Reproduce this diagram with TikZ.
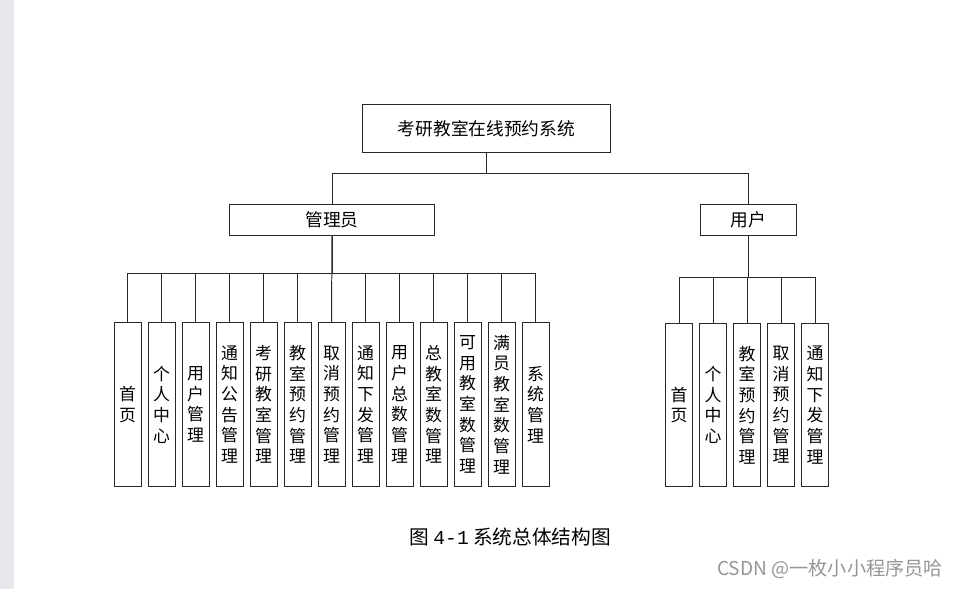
\documentclass[tikz,border=0pt]{standalone}
\usepackage{fontspec}
\usepackage{xcolor}
\usepackage{tikz}
\usetikzlibrary{calc,positioning}
\newfontfamily\cjk{Noto Sans CJK SC}
\newfontfamily\capfont{Liberation Mono}
\definecolor{edge}{RGB}{40,40,40}
\definecolor{strip}{RGB}{230,232,236}
\definecolor{mark}{RGB}{150,150,150}

\begin{document}
\begin{tikzpicture}[x=0.025cm,y=-0.025cm,
    top/.style={draw=edge,line width=0.7pt,inner sep=0pt,outer sep=0pt,font=\cjk\fontsize{12.6}{14}\selectfont,minimum width=6.175cm,minimum height=1.175cm},
    role/.style={draw=edge,line width=0.7pt,inner sep=0pt,outer sep=0pt,font=\cjk\fontsize{12.6}{14}\selectfont,minimum height=0.775cm},
    leaf/.style={draw=edge,line width=0.7pt,inner sep=0pt,outer sep=0pt,align=center,font=\cjk\fontsize{12}{14.7}\selectfont,minimum width=0.675cm,minimum height=4.075cm},
    link/.style={draw=edge,line width=0.7pt}]
   \useasboundingbox (0,0) rectangle (960,589);
   \fill[strip] (0,0) rectangle (14,589);
   % root and roles
   \node[top] (sys) at (486.5,128.5) {考研教室在线预约系统};
   \node[role,minimum width=5.1cm] (adm) at (332,219.5) {管理员};
   \node[role,minimum width=2.4cm] (usr) at (748,219.5) {用户};
   \coordinate (busT) at (0,173);
   \coordinate (busA) at (0,273);
   \coordinate (busU) at (0,277);
   \draw[link] (sys.south) -- (sys.south |- busT) -| (adm.north);
   \draw[link] (sys.south) -- (sys.south |- busT) -| (usr.north);
   % admin functions
   \node[leaf] (a1)  at (127.5,404.5) {首\\页};
   \node[leaf] (a2)  at (161.5,404.5) {个\\人\\中\\心};
   \node[leaf] (a3)  at (195.5,404.5) {用\\户\\管\\理};
   \node[leaf] (a4)  at (229.5,404.5) {通\\知\\公\\告\\管\\理};
   \node[leaf] (a5)  at (263.5,404.5) {考\\研\\教\\室\\管\\理};
   \node[leaf] (a6)  at (297.5,404.5) {教\\室\\预\\约\\管\\理};
   \node[leaf] (a7)  at (331.5,404.5) {取\\消\\预\\约\\管\\理};
   \node[leaf] (a8)  at (365.5,404.5) {通\\知\\下\\发\\管\\理};
   \node[leaf] (a9)  at (399.5,404.5) {用\\户\\总\\数\\管\\理};
   \node[leaf] (a10) at (433.5,404.5) {总\\教\\室\\数\\管\\理};
   \node[leaf] (a11) at (467.5,404.5) {可\\用\\教\\室\\数\\管\\理};
   \node[leaf] (a12) at (501.5,404.5) {满\\员\\教\\室\\数\\管\\理};
   \node[leaf] (a13) at (535.5,404.5) {系\\统\\管\\理};
   \draw[link] (adm.south) -- (adm.south |- busA) -| (a1.north);
   \draw[link] (adm.south) -- (adm.south |- busA) -| (a2.north);
   \draw[link] (adm.south) -- (adm.south |- busA) -| (a3.north);
   \draw[link] (adm.south) -- (adm.south |- busA) -| (a4.north);
   \draw[link] (adm.south) -- (adm.south |- busA) -| (a5.north);
   \draw[link] (adm.south) -- (adm.south |- busA) -| (a6.north);
   \draw[link] (adm.south) -- (a7.north);
   \draw[link] (adm.south) -- (adm.south |- busA) -| (a8.north);
   \draw[link] (adm.south) -- (adm.south |- busA) -| (a9.north);
   \draw[link] (adm.south) -- (adm.south |- busA) -| (a10.north);
   \draw[link] (adm.south) -- (adm.south |- busA) -| (a11.north);
   \draw[link] (adm.south) -- (adm.south |- busA) -| (a12.north);
   \draw[link] (adm.south) -- (adm.south |- busA) -| (a13.north);
   % user functions
   \node[leaf] (u1) at (679,405) {首\\页};
   \node[leaf] (u2) at (713,405) {个\\人\\中\\心};
   \node[leaf] (u3) at (747,405) {教\\室\\预\\约\\管\\理};
   \node[leaf] (u4) at (781,405) {取\\消\\预\\约\\管\\理};
   \node[leaf] (u5) at (815,405) {通\\知\\下\\发\\管\\理};
   \draw[link] (usr.south) -- (usr.south |- busU) -| (u1.north);
   \draw[link] (usr.south) -- (usr.south |- busU) -| (u2.north);
   \draw[link] (usr.south) -- (usr.south |- busU) -| (u3.north);
   \draw[link] (usr.south) -- (usr.south |- busU) -| (u4.north);
   \draw[link] (usr.south) -- (usr.south |- busU) -| (u5.north);
   % caption and mark
   \node[anchor=west,inner sep=0pt,font=\cjk\fontsize{14}{16}\selectfont] (cap) at (409,537) {图 {\capfont 4-1}\ 系统总体结构图};
   \node[anchor=east,inner sep=0pt,text=mark,font=\cjk\fontsize{13.6}{16}\selectfont] (wm) at (943,569) {CSDN @一枚小小程序员哈};
  \end{tikzpicture}
\end{document}
